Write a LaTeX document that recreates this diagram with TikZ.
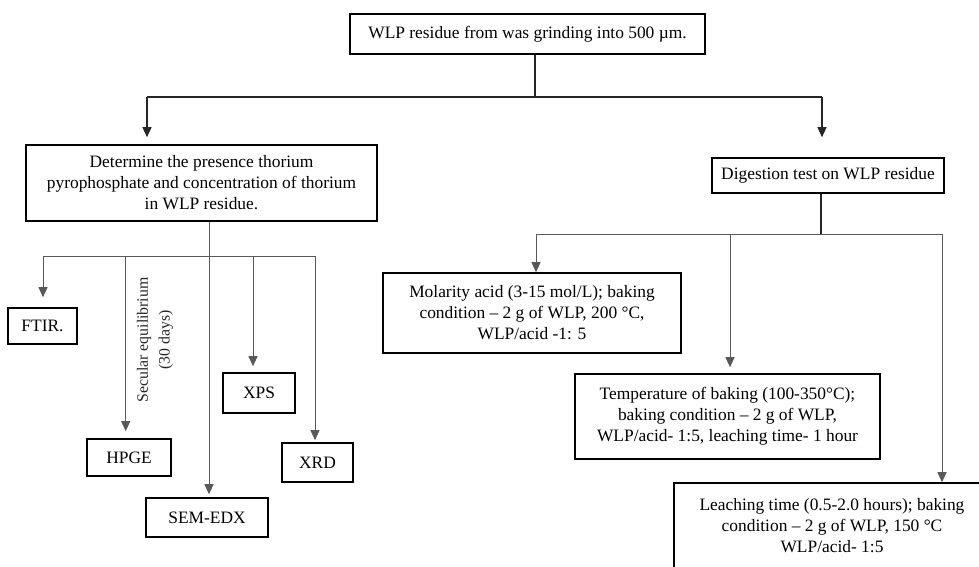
\documentclass[tikz,border=0pt]{standalone}
\usepackage{fontspec}
\setmainfont{Liberation Serif}
\usetikzlibrary{arrows.meta,calc}
\begin{document}
\begin{tikzpicture}[x=1pt,y=-1pt,
  box/.style={draw=black,line width=1.6pt,inner sep=0pt,align=center,fill=white,
    font=\fontsize{17.4}{21}\selectfont},
  main/.style={line width=1.3pt,draw=black!85},
  sub/.style={line width=0.9pt,draw=black!65},
  arr/.style={-{Triangle[length=10pt,width=9pt]}}]
\useasboundingbox (0,0) rectangle (979,566);
\fill[white] (0,0) rectangle (979,566);

% boxes
\node[box,minimum width=355pt,minimum height=40pt] (top) at (527.5,34) {WLP residue from was grinding into 500 µm.};
\node[box,minimum width=351pt,minimum height=76pt] (det) at (201.5,183) {Determine the presence thorium\\pyrophosphate and concentration of thorium\\in WLP residue.};
\node[box,minimum width=232pt,minimum height=35pt] (dig) at (828,175.5) {Digestion test on WLP residue};

\node[box,minimum width=69pt,minimum height=36pt] (ftir) at (42.5,326) {FTIR.};
\node[box,minimum width=84pt,minimum height=37pt] (hpge) at (129,457.5) {HPGE};
\node[box,minimum width=122pt,minimum height=39pt] (sem) at (207,517.5) {SEM-EDX};
\node[box,minimum width=72pt,minimum height=40pt] (xps) at (259,393) {XPS};
\node[box,minimum width=71pt,minimum height=39pt] (xrd) at (317.5,462.5) {XRD};

\node[box,minimum width=298pt,minimum height=80pt] (mol) at (532,313) {Molarity acid (3-15 mol/L); baking\\condition – 2 g of WLP, 200 °C,\\WLP/acid -1: 5};
\node[box,minimum width=305pt,minimum height=85pt] (temp) at (727.5,416.5) {Temperature of baking (100-350°C);\\baking condition – 2 g of WLP,\\WLP/acid- 1:5, leaching time- 1 hour};
\node[box,minimum width=316pt,minimum height=86pt] (leach) at (832,526) {Leaching time (0.5-2.0 hours); baking\\condition – 2 g of WLP, 150 °C\\WLP/acid- 1:5};

\node[rotate=90,align=center,inner sep=0pt,text=black!85,font=\fontsize{15.8}{21.7}\selectfont] (sec) at (155,340) {Secular equilibrium\\(30 days)};

% top level connectors
\coordinate (j0) at (535,97);
\coordinate (jl) at (147,97);
\coordinate (jr) at (822,97);
\draw[main] (top.south -| j0) -- (j0);
\draw[main] (jl) -- (jr);
\draw[main,arr] (jl) -- ($(det.north -| jl)+(0,-7)$);
\draw[main,arr] (jr) -- ($(dig.north -| jr)+(0,-20)$);

% left branch
\coordinate (jd) at (209,256);
\coordinate (bl1) at (43,256);
\coordinate (bl2) at (125.7,256);
\coordinate (bl4) at (253,256);
\coordinate (bl5) at (315,256);
\draw[sub] (bl1) -- (bl5);
\draw[sub,arr] (det.south -| jd) -- ($(sem.north -| jd)+(0,-3)$);
\draw[sub,arr] (bl1) -- ($(ftir.north -| bl1)+(0,-10)$);
\draw[sub,arr] (bl2) -- ($(hpge.north -| bl2)+(0,-7)$);
\draw[sub,arr] (bl4) -- ($(xps.north -| bl4)+(0,-6)$);
\draw[sub,arr] (bl5) -- ($(xrd.north -| bl5)+(0,-2)$);

% right branch
\coordinate (jg) at (821,234);
\coordinate (br1) at (536,234);
\coordinate (br2) at (730,234);
\coordinate (br3) at (942,234);
\draw[main] (dig.south -| jg) -- (jg);
\draw[sub] (br1) -- (br3);
\draw[sub,arr] (br1) -- (mol.north -| br1);
\draw[sub,arr] (br2) -- ($(temp.north -| br2)+(0,-6)$);
\draw[sub,arr] (br3) -- (leach.north -| br3);
\end{tikzpicture}
\end{document}
